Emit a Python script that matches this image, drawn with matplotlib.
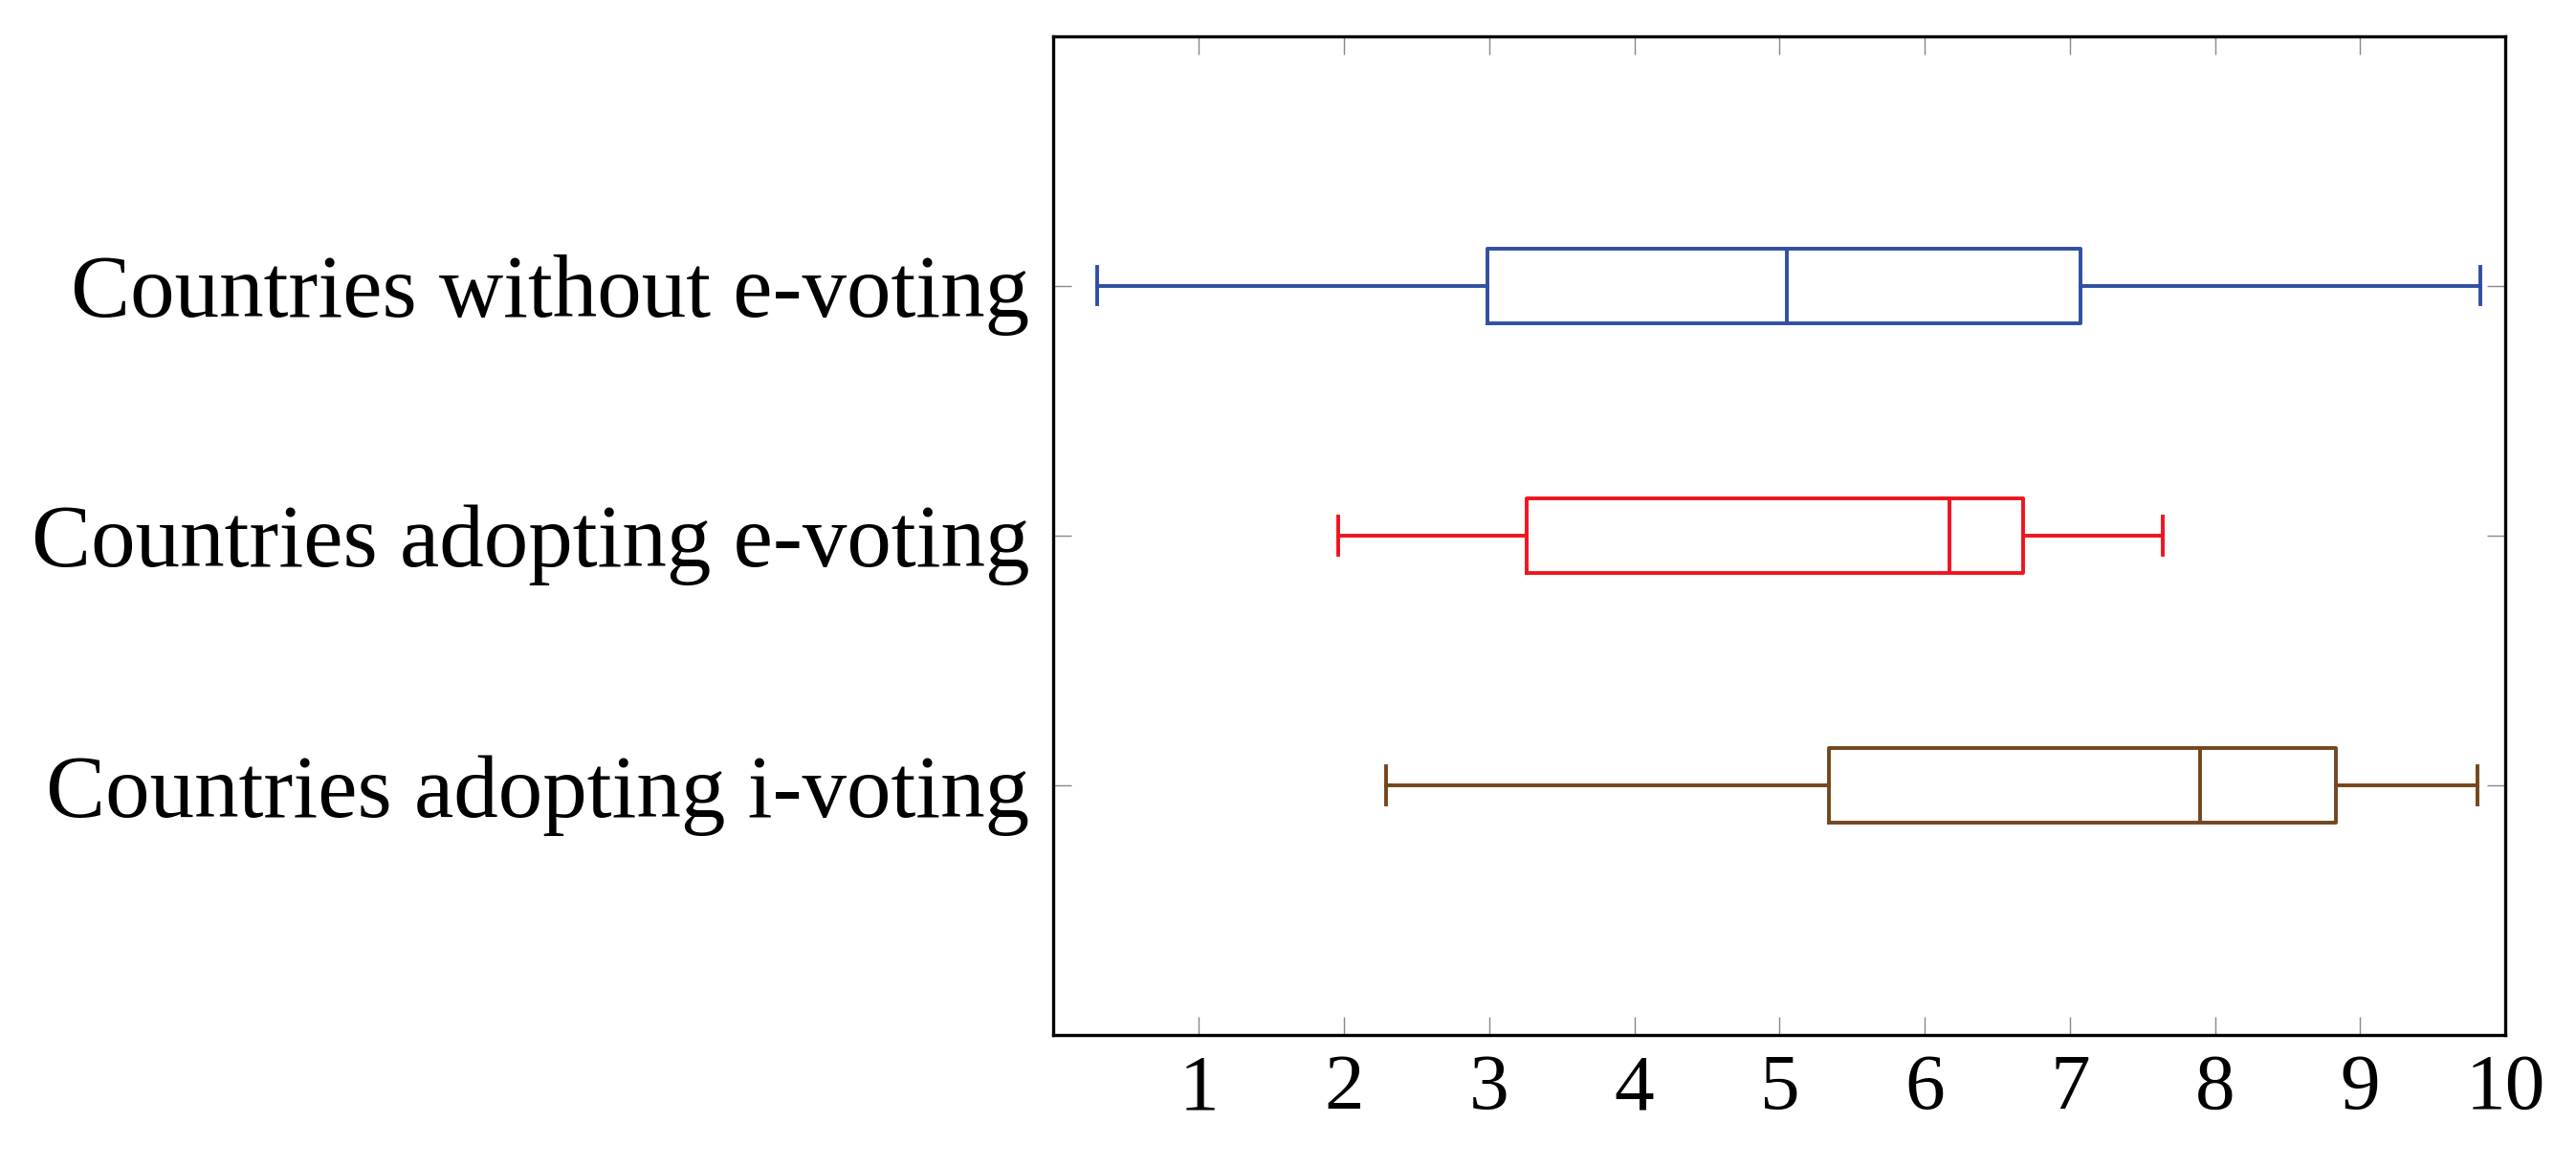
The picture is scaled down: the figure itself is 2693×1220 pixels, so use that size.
import matplotlib.pyplot as plt

categories = ["Countries without e-voting", "Countries adopting e-voting", "Countries adopting i-voting"]
whislo = [0.30, 1.96, 2.29]
q1 = [2.99, 3.26, 5.34]
med = [5.05, 6.17, 7.90]
q3 = [7.07, 6.68, 8.83]
whishi = [9.83, 7.64, 9.81]
colors = ["#2f4fa2", "#f0141e", "#74461c"]
positions = [3, 2, 1]

plt.rcParams['font.family'] = ['Liberation Serif', 'DejaVu Serif']
fig = plt.figure(figsize=(26.93, 12.2), dpi=100)
ax = fig.add_axes([0.409, 0.113, 0.5636, 0.856])

for i in range(3):
    st = [dict(whislo=whislo[i], q1=q1[i], med=med[i], q3=q3[i], whishi=whishi[i], fliers=[])]
    props = dict(color=colors[i], linewidth=2.8)
    ax.bxp(st, positions=[positions[i]], vert=False, widths=0.3, showfliers=False,
           boxprops=props, medianprops=props, whiskerprops=props, capprops=props)

ax.set_xlim(0, 10)
ax.set_ylim(0, 4)
ax.set_xticks(range(1, 11))
ax.set_yticks(positions)
ax.set_yticklabels(categories)
ax.tick_params(direction='in', length=14, width=1, color='#888888',
               top=True, right=True)
ax.tick_params(axis='x', labelsize=60, pad=14)
ax.tick_params(axis='y', labelsize=67, pad=18)
for s in ax.spines.values():
    s.set_linewidth(2.4)

fig.savefig("out.png", dpi=100)
